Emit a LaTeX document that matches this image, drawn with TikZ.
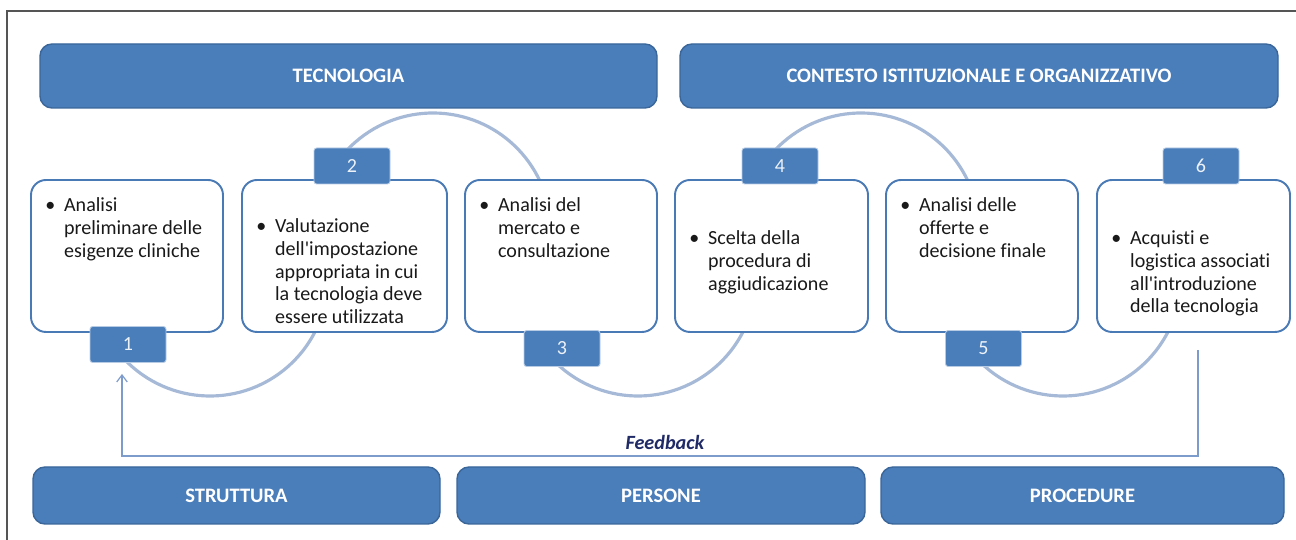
\documentclass[tikz,border=0pt]{standalone}
\usepackage{fontspec}
\setmainfont[Ligatures=NoCommon]{Carlito}
\usetikzlibrary{arrows.meta,backgrounds,positioning}

\definecolor{hdrblue}{HTML}{4A7EBB}
\definecolor{hdredge}{HTML}{3A6699}
\definecolor{boxedge}{HTML}{4A7AB5}
\definecolor{arcblue}{HTML}{A6B9D6}
\definecolor{fbblue}{HTML}{7E9CCB}
\definecolor{fbtext}{HTML}{1F2A66}
\definecolor{framegrey}{HTML}{555555}

% punto elenco con rientro sospeso
\newcommand{\bul}[1]{\begin{tabular}[t]{@{}l@{\hspace{5pt}}l@{}}\textbullet & \begin{tabular}[t]{@{}l@{}}#1\end{tabular}\end{tabular}}
\newcommand{\ap}{\textquotesingle}

\begin{document}
\begin{tikzpicture}
  \tikzstyle{header}=[rectangle, draw=hdredge, line width=0.8pt, fill=hdrblue, rounded corners=0.24cm, text=white, font=\fontsize{11.7}{13}\selectfont\bfseries]
  \tikzstyle{stepbox}=[rectangle, draw=boxedge, line width=1.1pt, fill=white, rounded corners=0.3cm, minimum height=3.04cm]
  \tikzstyle{steptext}=[inner sep=0pt, anchor=north west, font=\fontsize{11.4}{13}\selectfont, text=black!90]
  \tikzstyle{numtab}=[rectangle, draw=white!60!hdrblue, line width=0.5pt, fill=hdrblue, rounded corners=1.5pt, minimum width=1.52cm, minimum height=0.72cm, text=white!90!hdrblue, font=\fontsize{11.4}{13}\selectfont]
  \tikzstyle{arcline}=[arcblue, line width=1.8pt]
  \tikzstyle{fbline}=[fbblue, line width=0.7pt]

  \useasboundingbox (0,0) rectangle (25.92,10.8);
  \draw[framegrey, line width=0.6pt] (0.14,0) -- (0.14,10.58) -- (25.92,10.58);

  % intestazioni
  \node[header, minimum width=12.34cm, minimum height=1.28cm] (tec) at (6.97,9.28) {TECNOLOGIA};
  \node[header, minimum width=11.96cm, minimum height=1.28cm] (ctx) at (19.58,9.28) {CONTESTO ISTITUZIONALE E ORGANIZZATIVO};

  % fasi
  \node[stepbox, minimum width=3.84cm] (s1) at (2.54,5.68) {};
  \node[stepbox, minimum width=4.10cm] (s2) at (6.89,5.68) {};
  \node[stepbox, minimum width=3.84cm] (s3) at (11.22,5.68) {};
  \node[stepbox, minimum width=3.86cm] (s4) at (15.43,5.68) {};
  \node[stepbox, minimum width=3.84cm] (s5) at (19.64,5.68) {};
  \node[stepbox, minimum width=3.86cm] (s6) at (23.87,5.68) {};

  \node[steptext] (s1t) at ([xshift=0.3cm,yshift=-0.32cm]s1.north west) {\bul{Analisi\\preliminare delle\\esigenze cliniche}};
  \node[steptext] (s2t) at ([xshift=0.3cm,yshift=-0.74cm]s2.north west) {\bul{Valutazione\\dell\ap impostazione\\appropriata in cui\\la tecnologia deve\\essere utilizzata}};
  \node[steptext] (s3t) at ([xshift=0.3cm,yshift=-0.32cm]s3.north west) {\bul{Analisi del\\mercato e\\consultazione}};
  \node[steptext] (s4t) at ([xshift=0.3cm,yshift=-0.98cm]s4.north west) {\bul{Scelta della\\procedura di\\aggiudicazione}};
  \node[steptext] (s5t) at ([xshift=0.3cm,yshift=-0.32cm]s5.north west) {\bul{Analisi delle\\offerte e\\decisione finale}};
  \node[steptext] (s6t) at ([xshift=0.3cm,yshift=-0.98cm]s6.north west) {\bul{Acquisti e\\logistica associati\\all\ap introduzione\\della tecnologia}};

  % numeri
  \node[numtab] (t1) at (2.56,3.91) {1};
  \node[numtab] (t2) at (7.04,7.48) {2};
  \node[numtab] (t3) at (11.24,3.83) {3};
  \node[numtab] (t4) at (15.60,7.48) {4};
  \node[numtab] (t5) at (19.67,3.83) {5};
  \node[numtab] (t6) at (24.02,7.48) {6};

  % archi dietro le fasi
  \coordinate (c12) at (4.20,5.24);
  \coordinate (c23) at (8.66,6.18);
  \coordinate (c34) at (12.76,5.24);
  \coordinate (c45) at (17.22,6.18);
  \coordinate (c56) at (21.26,5.24);
  \begin{scope}[on background layer]
    \draw[arcline] (c12) ++(215:2.36) arc[start angle=215, end angle=340, radius=2.36];
    \draw[arcline] (c23) ++(140:2.36) arc[start angle=140, end angle=15, radius=2.36];
    \draw[arcline] (c34) ++(215:2.36) arc[start angle=215, end angle=340, radius=2.36];
    \draw[arcline] (c45) ++(140:2.36) arc[start angle=140, end angle=15, radius=2.36];
    \draw[arcline] (c56) ++(215:2.36) arc[start angle=215, end angle=340, radius=2.36];
  \end{scope}

  % feedback
  \draw[fbline, -{Straight Barb[length=4pt,width=6pt]}, shorten <=0.34cm, shorten >=0.22cm]
    ([xshift=0.09cm]s6.south) -- ++(0,-2.46) -| ([xshift=-0.12cm]t1.south);
  \node[font=\fontsize{11.5}{13}\selectfont\bfseries\itshape, text=fbtext] (fb) at (13.3,1.96) {Feedback};

  % basi
  \node[header, minimum width=8.14cm, minimum height=1.14cm] (str) at (4.73,0.89) {STRUTTURA};
  \node[header, minimum width=8.16cm, minimum height=1.14cm] (per) at (13.22,0.89) {PERSONE};
  \node[header, minimum width=8.06cm, minimum height=1.14cm] (pro) at (21.65,0.89) {PROCEDURE};
\end{tikzpicture}
\end{document}
